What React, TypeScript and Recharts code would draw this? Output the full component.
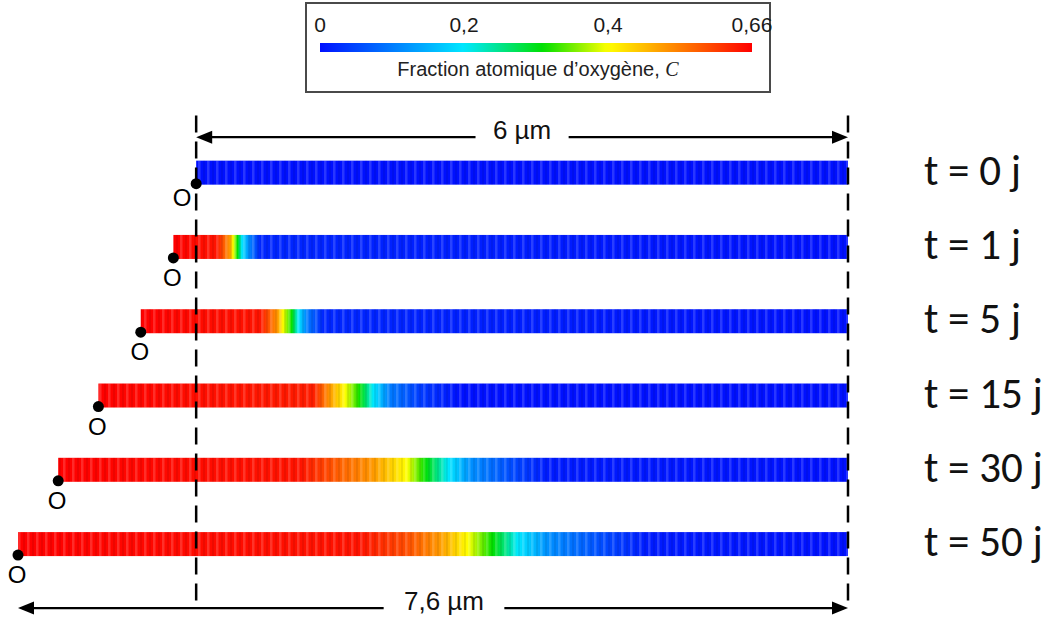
import React from 'react';
import { ComposedChart, Bar, XAxis, YAxis, ReferenceLine } from 'recharts';

// ---------- data ----------
const timeLabels = ['t = 0 j', 't = 1 j', 't = 5 j', 't = 15 j', 't = 30 j', 't = 50 j'];
const rowIndex = [0, 1, 2, 3, 4, 5];
// left end of each bar (oxide surface), µm relative to the initial surface
const surfacePos = [0, -0.21, -0.51, -0.9, -1.27, -1.64];
// right end of each bar, µm
const innerPos = [6, 6, 6, 6, 6, 6];

// oxygen fraction profiles (position µm, C)
const profilePos0 = [0, 6];
const profileC0 = [0, 0];
const profilePos1 = [-0.21, 0.19, 0.31, 0.34, 0.38, 0.42, 0.5, 0.59, 6];
const profileC1 = [0.66, 0.64, 0.5, 0.4, 0.31, 0.2, 0.1, 0.02, 0];
const profilePos5 = [-0.51, 0.59, 0.75, 0.8, 0.88, 0.94, 1.02, 1.17, 6];
const profileC5 = [0.66, 0.64, 0.5, 0.4, 0.31, 0.2, 0.1, 0.02, 0];
const profilePos15 = [-0.9, 1.08, 1.23, 1.37, 1.51, 1.63, 1.78, 2.06, 2.43, 6];
const profileC15 = [0.66, 0.63, 0.5, 0.4, 0.31, 0.2, 0.1, 0.04, 0.0, 0];
const profilePos30 = [-1.27, 0.96, 1.32, 1.63, 1.94, 2.11, 2.32, 2.52, 2.86, 3.23, 6];
const profileC30 = [0.66, 0.64, 0.56, 0.5, 0.4, 0.31, 0.2, 0.12, 0.06, 0.01, 0];
const profilePos50 = [-1.64, 1.51, 1.94, 2.24, 2.5, 2.73, 2.96, 3.23, 3.69, 4.15, 6];
const profileC50 = [0.66, 0.64, 0.58, 0.5, 0.4, 0.31, 0.2, 0.12, 0.06, 0.01, 0];

const profilePositions = [profilePos0, profilePos1, profilePos5, profilePos15, profilePos30, profilePos50];
const profileValues = [profileC0, profileC1, profileC5, profileC15, profileC30, profileC50];

// colour bar
const colorbarTicks = [0, 0.2, 0.4, 0.66];
const colorbarTickLabels = ['0', '0,2', '0,4', '0,66'];
const cmapC = [0, 0.2, 0.31, 0.4, 0.5, 0.66];
const cmapColors = ['#0010ff', '#00e8ff', '#00e000', '#ffff00', '#ff9900', '#ff0000'];

const rows = timeLabels.map((label, i) => ({ label, row: rowIndex[i], span: [surfacePos[i], innerPos[i]] }));
const cbarData = [{ name: 'C', span: [0, colorbarTicks.length - 1] }];

// ---------- helpers ----------
const hexToRgb = (h: string) => [parseInt(h.slice(1, 3), 16), parseInt(h.slice(3, 5), 16), parseInt(h.slice(5, 7), 16)];
const cmap = (c: number) => {
  if (c <= cmapC[0]) return cmapColors[0];
  for (let k = 0; k < cmapC.length - 1; k++) {
    if (c <= cmapC[k + 1]) {
      const t = (c - cmapC[k]) / (cmapC[k + 1] - cmapC[k]);
      const a = hexToRgb(cmapColors[k]);
      const b = hexToRgb(cmapColors[k + 1]);
      const m = a.map((v, j) => Math.round(v + (b[j] - v) * t));
      return `rgb(${m[0]},${m[1]},${m[2]})`;
    }
  }
  return cmapColors[cmapColors.length - 1];
};
// colour-bar tick index for a C value (piecewise between ticks)
const cToIdx = (c: number) => {
  for (let k = 0; k < colorbarTicks.length - 1; k++) {
    if (c <= colorbarTicks[k + 1]) return k + (c - colorbarTicks[k]) / (colorbarTicks[k + 1] - colorbarTicks[k]);
  }
  return colorbarTicks.length - 1;
};

const barStops = (i: number) => {
  const pos = profilePositions[i];
  const val = profileValues[i];
  const s = surfacePos[i];
  const e = innerPos[i];
  const out: { o: number; col: string }[] = [];
  const n = 8;
  for (let j = 0; j < pos.length - 1; j++) {
    for (let k = 0; k < n; k++) {
      const p = pos[j] + ((pos[j + 1] - pos[j]) * k) / n;
      const c = val[j] + ((val[j + 1] - val[j]) * k) / n;
      out.push({ o: (p - s) / (e - s), col: cmap(c) });
    }
  }
  out.push({ o: 1, col: cmap(val[val.length - 1]) });
  return out;
};

const cbarStops = () => {
  const out: { o: number; col: string }[] = [];
  const cMax = colorbarTicks[colorbarTicks.length - 1];
  const n = 60;
  for (let k = 0; k <= n; k++) {
    const c = (cMax * k) / n;
    out.push({ o: cToIdx(c) / (colorbarTicks.length - 1), col: cmap(c) });
  }
  return out;
};

const SANS = "'Liberation Sans', Arial, sans-serif";

// ---------- shapes ----------
const BarShape = (props: any) => {
  const { x, y, width, height, index } = props;
  const yb = y + height;
  const atSurface = surfacePos[index] === 0;
  return (
    <g>
      <rect x={x} y={y} width={width} height={height} fill={`url(#grad-${index})`} />
      <rect x={x} y={y} width={width} height={height} fill="url(#stripes)" />
      <circle cx={x} cy={yb - 1} r={5.5} fill="#000" />
      <text
        x={atSurface ? x - 14 : x - 1}
        y={atSurface ? yb + 21 : yb + 27}
        textAnchor="middle"
        fontSize={24}
        fontFamily={SANS}
        fill="#000"
      >
        O
      </text>
    </g>
  );
};

const arrowShape = (label: string, fs: number, dx: number) => (p: any) => {
  const { x1, y1, x2 } = p;
  const y = y1;
  const left = Math.min(x1, x2);
  const right = Math.max(x1, x2);
  const cx = (left + right) / 2 + dx;
  const gw = label.length * 0.53 * fs + 38;
  const ah = 16;
  const aw = 6.5;
  return (
    <g>
      <line x1={left + 4} y1={y} x2={cx - gw / 2} y2={y} stroke="#000" strokeWidth={2.2} />
      <line x1={cx + gw / 2} y1={y} x2={right - 4} y2={y} stroke="#000" strokeWidth={2.2} />
      <polygon points={`${left},${y} ${left + ah},${y - aw} ${left + ah},${y + aw}`} fill="#000" />
      <polygon points={`${right},${y} ${right - ah},${y - aw} ${right - ah},${y + aw}`} fill="#000" />
      <text x={cx} y={y + 2} textAnchor="middle" fontSize={fs} fontFamily={SANS} fill="#111">
        {label}
      </text>
    </g>
  );
};

const TimeTick = (props: any) => {
  const { x, y, payload } = props;
  return (
    <text x={x + 76} y={y + 12} fontSize={43} fontFamily="Carlito, Lato, 'Open Sans', sans-serif" fill="#111">
      {timeLabels[payload.value]}
    </text>
  );
};

const CbarTick = (props: any) => {
  const { x, y, payload } = props;
  return (
    <text x={x} y={y - 10} textAnchor="middle" fontSize={21} fontFamily={SANS} fill="#1a1a1a">
      {colorbarTickLabels[payload.value]}
    </text>
  );
};

export default function App() {
  return (
    <div style={{ position: 'absolute', left: 0, top: 0, width: 1054, height: 623, background: '#fff', fontFamily: SANS }}>
      {/* colour-bar legend */}
      <div
        style={{
          position: 'absolute',
          left: 305,
          top: 2,
          width: 466,
          height: 91,
          border: '2px solid #4a4a4a',
          boxSizing: 'border-box',
        }}
      />
      <div style={{ position: 'absolute', left: 306, top: 3 }}>
        <ComposedChart width={490} height={89} data={cbarData} layout="vertical" margin={{ top: 0, right: 44, bottom: 40, left: 14 }}>
          <defs>
            <linearGradient id="cbar" x1="0" y1="0" x2="1" y2="0">
              {cbarStops().map((s, k) => (
                <stop key={k} offset={s.o} stopColor={s.col} />
              ))}
            </linearGradient>
          </defs>
          <XAxis
            type="number"
            orientation="top"
            domain={[0, colorbarTicks.length - 1]}
            ticks={colorbarTicks.map((_, i) => i)}
            tick={CbarTick}
            tickSize={0}
            tickMargin={0}
            axisLine={false}
            tickLine={false}
            height={39}
            interval={0}
          />
          <YAxis type="category" dataKey="name" hide />
          <Bar dataKey="span" barSize={10} fill="url(#cbar)" isAnimationActive={false} />
        </ComposedChart>
      </div>
      <div
        style={{
          position: 'absolute',
          left: 306,
          top: 58,
          width: 464,
          textAlign: 'center',
          fontSize: 20,
          fontFamily: SANS,
          color: '#222',
          whiteSpace: 'nowrap',
        }}
      >
        Fraction atomique d’oxygène,{' '}
        <span style={{ fontFamily: "'Liberation Serif', serif", fontStyle: 'italic' }}>C</span>
      </div>

      {/* main figure */}
      <div style={{ position: 'absolute', left: 0, top: 0 }}>
        <ComposedChart width={1054} height={623} data={rows} layout="vertical" margin={{ top: 100, right: 0, bottom: 3, left: 18 }}>
          <defs>
            {rows.map((_, i) => (
              <linearGradient key={i} id={`grad-${i}`} x1="0" y1="0" x2="1" y2="0">
                {barStops(i).map((s, k) => (
                  <stop key={k} offset={s.o} stopColor={s.col} />
                ))}
              </linearGradient>
            ))}
            <pattern id="stripes" patternUnits="userSpaceOnUse" width="9" height="10">
              <rect x="0" y="0" width="2.5" height="10" fill="#fff" fillOpacity="0.16" />
              <rect x="5" y="0" width="2" height="10" fill="#000" fillOpacity="0.07" />
            </pattern>
          </defs>
          <XAxis type="number" domain={[-1.64, 6]} hide />
          <YAxis
            type="number"
            dataKey="row"
            orientation="right"
            domain={[-0.98, 6.02]}
            ticks={rowIndex}
            interval={0}
            tick={TimeTick}
            tickSize={0}
            tickMargin={0}
            axisLine={false}
            tickLine={false}
            width={206}
          />
          <Bar dataKey="span" barSize={24} shape={BarShape} isAnimationActive={false} />
          <ReferenceLine
            segment={[{ x: 0, y: -0.77 }, { x: 0, y: 5.79 }]}
            stroke="#000"
            strokeWidth={2.5}
            strokeDasharray="17 9"
          />
          <ReferenceLine
            segment={[{ x: 6, y: -0.77 }, { x: 6, y: 5.79 }]}
            stroke="#000"
            strokeWidth={2.5}
            strokeDasharray="17 9"
          />
          <ReferenceLine segment={[{ x: 0, y: -0.48 }, { x: 6, y: -0.48 }]} shape={arrowShape('6 µm', 26, 0)} />
          <ReferenceLine segment={[{ x: -1.64, y: 5.86 }, { x: 6, y: 5.86 }]} shape={arrowShape('7,6 µm', 26, 11)} />
        </ComposedChart>
      </div>
    </div>
  );
}
